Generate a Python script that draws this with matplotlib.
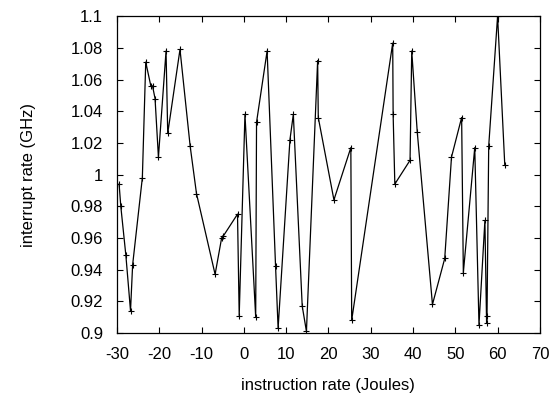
import matplotlib
matplotlib.use("Agg")
import matplotlib.pyplot as plt
from matplotlib.ticker import FuncFormatter

# values, in drawing order
instr_rate = [-29.5, -29.1, -27.9, -26.8, -26.3, -24.0, -23.2, -22.0, -21.6, -21.0,
              -20.2, -18.4, -18.0, -15.1, -12.7, -11.2, -6.8, -5.25, -4.9, -1.5,
              -1.1, 0.26, 2.8, 3.0, 5.5, 7.5, 8.1, 10.9, 11.7, 13.8,
              14.8, 17.45, 17.6, 21.3, 25.3, 25.5, 35.2, 35.3, 35.7, 39.3,
              39.7, 41.0, 44.6, 47.5, 49.1, 51.5, 51.9, 54.6, 55.6, 57.0,
              57.4, 57.5, 57.9, 60.0, 61.7]
intr_rate = [0.994, 0.980, 0.949, 0.914, 0.943, 0.998, 1.071, 1.056, 1.056, 1.048,
             1.011, 1.078, 1.026, 1.079, 1.018, 0.988, 0.937, 0.960, 0.961, 0.975,
             0.911, 1.038, 0.910, 1.033, 1.078, 0.942, 0.903, 1.022, 1.038, 0.917,
             0.901, 1.072, 1.036, 0.984, 1.017, 0.908, 1.083, 1.038, 0.994, 1.009,
             1.078, 1.027, 0.918, 0.947, 1.011, 1.036, 0.938, 1.017, 0.905, 0.971,
             0.906, 0.911, 1.018, 1.100, 1.006]

xticks = [-30, -20, -10, 0, 10, 20, 30, 40, 50, 60, 70]
yticks = [0.9, 0.92, 0.94, 0.96, 0.98, 1.0, 1.02, 1.04, 1.06, 1.08, 1.1]

plt.rcParams['font.family'] = ['Liberation Sans', 'DejaVu Sans']
plt.rcParams['font.size'] = 12
plt.rcParams['axes.unicode_minus'] = False  # plain hyphen like gnuplot

fig = plt.figure(figsize=(5.56, 3.94), dpi=100)
ax = fig.add_axes([0.2104, 0.155, 0.7606, 0.804])

ax.plot(instr_rate, intr_rate, color='black', linewidth=0.9,
        marker='+', markersize=5, markeredgewidth=0.8)

ax.set_xlim(-30, 70)
ax.set_ylim(0.9, 1.1)
ax.set_xticks(xticks)
ax.set_yticks(yticks)
ax.yaxis.set_major_formatter(FuncFormatter(lambda v, p: f"{v:g}"))
ax.tick_params(direction='in', top=True, right=True, length=4, width=0.8)
ax.tick_params(axis='x', pad=10)
ax.tick_params(axis='y', pad=10)
for s in ax.spines.values():
    s.set_linewidth(0.9)

ax.set_xlabel("instruction rate (Joules)", labelpad=11.5)
ax.set_ylabel("interrupt rate (GHz)", labelpad=25)

fig.savefig("out.png", dpi=100)
